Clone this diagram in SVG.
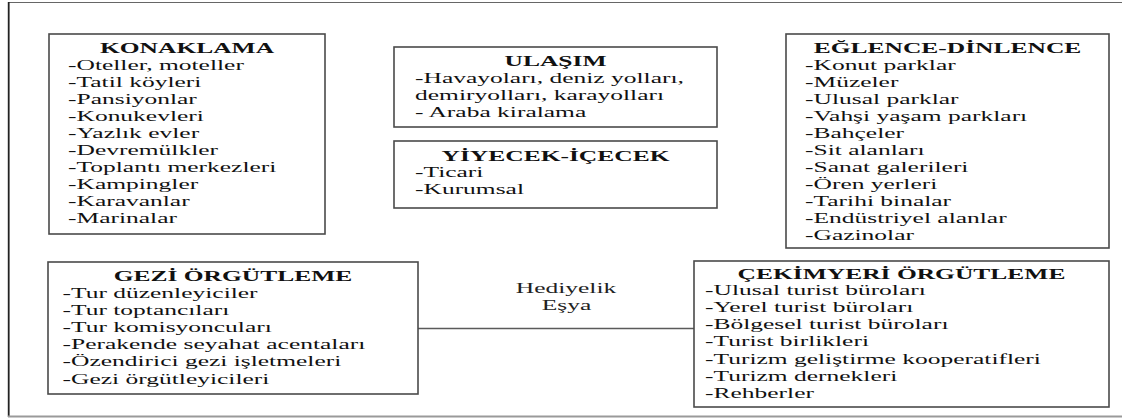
<svg xmlns="http://www.w3.org/2000/svg" width="1122" height="419" viewBox="0 0 1122 419">
  <style>
    .box { fill: #ffffff; stroke: #4a4a4a; stroke-width: 1.6; }
    .title { font-family: "Liberation Serif", "Times New Roman", serif; font-size: 15px; font-weight: bold; fill: #111; text-anchor: middle; }
    .item { font-family: "Liberation Serif", "Times New Roman", serif; font-size: 15px; fill: #111; }
    .label { font-family: "Liberation Serif", "Times New Roman", serif; font-size: 15px; fill: #222; text-anchor: middle; }
    .link { stroke: #5a5a5a; stroke-width: 1.4; fill: none; }
  </style>
  <rect width="1122" height="419" fill="#ffffff"/>

  <!-- outer frame (right side runs past the canvas) -->
  <g id="frame">
    <line x1="8" y1="2.5" x2="1122" y2="2.5" stroke="#666" stroke-width="1.2"/>
    <line x1="8.7" y1="2" x2="8.7" y2="417" stroke="#222" stroke-width="1.8"/>
    <line x1="8" y1="416.5" x2="1122" y2="416.5" stroke="#9a9a9a" stroke-width="2"/>
  </g>

  <g id="connectors">
    <line class="link" x1="418" y1="328.5" x2="694" y2="328.5"/>
  </g>

  <g id="hediyelik">
    <text class="label" transform="translate(566 293) scale(1.7 1)">Hediyelik</text>
    <text class="label" transform="translate(566.5 310) scale(1.7 1)">Eşya</text>
  </g>

  <g id="konaklama">
    <rect class="box" x="49" y="34" width="276" height="200"/>
    <text class="title" transform="translate(187 53) scale(1.7 1)">KONAKLAMA</text>
    <text class="item" transform="translate(68 0) scale(1.7 1)">
      <tspan x="0" y="70">-Oteller, moteller</tspan>
      <tspan x="0" y="87">-Tatil köyleri</tspan>
      <tspan x="0" y="104">-Pansiyonlar</tspan>
      <tspan x="0" y="121">-Konukevleri</tspan>
      <tspan x="0" y="138">-Yazlık evler</tspan>
      <tspan x="0" y="155">-Devremülkler</tspan>
      <tspan x="0" y="172">-Toplantı merkezleri</tspan>
      <tspan x="0" y="189">-Kampingler</tspan>
      <tspan x="0" y="206">-Karavanlar</tspan>
      <tspan x="0" y="223">-Marinalar</tspan>
    </text>
  </g>

  <g id="ulasim">
    <rect class="box" x="394" y="47" width="323" height="80"/>
    <text class="title" transform="translate(555.5 66) scale(1.7 1)">ULAŞIM</text>
    <text class="item" transform="translate(415 0) scale(1.7 1)">
      <tspan x="0" y="83.5">-Havayoları, deniz yolları,</tspan>
      <tspan x="0" y="100.5">demiryolları, karayolları</tspan>
      <tspan x="0" y="117.5">- Araba kiralama</tspan>
    </text>
  </g>

  <g id="yiyecek-icecek">
    <rect class="box" x="394" y="141" width="323" height="67"/>
    <text class="title" transform="translate(555.5 160.5) scale(1.7 1)">YİYECEK-İÇECEK</text>
    <text class="item" transform="translate(415 0) scale(1.7 1)">
      <tspan x="0" y="177.5">-Ticari</tspan>
      <tspan x="0" y="194.5">-Kurumsal</tspan>
    </text>
  </g>

  <g id="eglence-dinlence">
    <rect class="box" x="786" y="34" width="323" height="214"/>
    <text class="title" transform="translate(947.5 53) scale(1.7 1)">EĞLENCE-DİNLENCE</text>
    <text class="item" transform="translate(805 0) scale(1.7 1)">
      <tspan x="0" y="70">-Konut parklar</tspan>
      <tspan x="0" y="87">-Müzeler</tspan>
      <tspan x="0" y="104">-Ulusal parklar</tspan>
      <tspan x="0" y="121">-Vahşi yaşam parkları</tspan>
      <tspan x="0" y="138">-Bahçeler</tspan>
      <tspan x="0" y="155">-Sit alanları</tspan>
      <tspan x="0" y="172">-Sanat galerileri</tspan>
      <tspan x="0" y="189">-Ören yerleri</tspan>
      <tspan x="0" y="206">-Tarihi binalar</tspan>
      <tspan x="0" y="223">-Endüstriyel alanlar</tspan>
      <tspan x="0" y="240">-Gazinolar</tspan>
    </text>
  </g>

  <g id="gezi-orgutleme">
    <rect class="box" x="48" y="262" width="370" height="132"/>
    <text class="title" transform="translate(233 281) scale(1.7 1)">GEZİ ÖRGÜTLEME</text>
    <text class="item" transform="translate(62.5 0) scale(1.7 1)">
      <tspan x="0" y="298">-Tur düzenleyiciler</tspan>
      <tspan x="0" y="315">-Tur toptancıları</tspan>
      <tspan x="0" y="332">-Tur komisyoncuları</tspan>
      <tspan x="0" y="349.5">-Perakende seyahat acentaları</tspan>
      <tspan x="0" y="366.5">-Özendirici gezi işletmeleri</tspan>
      <tspan x="0" y="384">-Gezi örgütleyicileri</tspan>
    </text>
  </g>

  <g id="cekimyeri-orgutleme">
    <rect class="box" x="694" y="261" width="415" height="146"/>
    <text class="title" transform="translate(901.5 278.5) scale(1.7 1)">ÇEKİMYERİ ÖRGÜTLEME</text>
    <text class="item" transform="translate(705 0) scale(1.7 1)">
      <tspan x="0" y="295.5">-Ulusal turist büroları</tspan>
      <tspan x="0" y="312.5">-Yerel turist büroları</tspan>
      <tspan x="0" y="329.5">-Bölgesel turist büroları</tspan>
      <tspan x="0" y="346.5">-Turist birlikleri</tspan>
      <tspan x="0" y="364">-Turizm geliştirme kooperatifleri</tspan>
      <tspan x="0" y="381">-Turizm dernekleri</tspan>
      <tspan x="0" y="398">-Rehberler</tspan>
    </text>
  </g>
</svg>
